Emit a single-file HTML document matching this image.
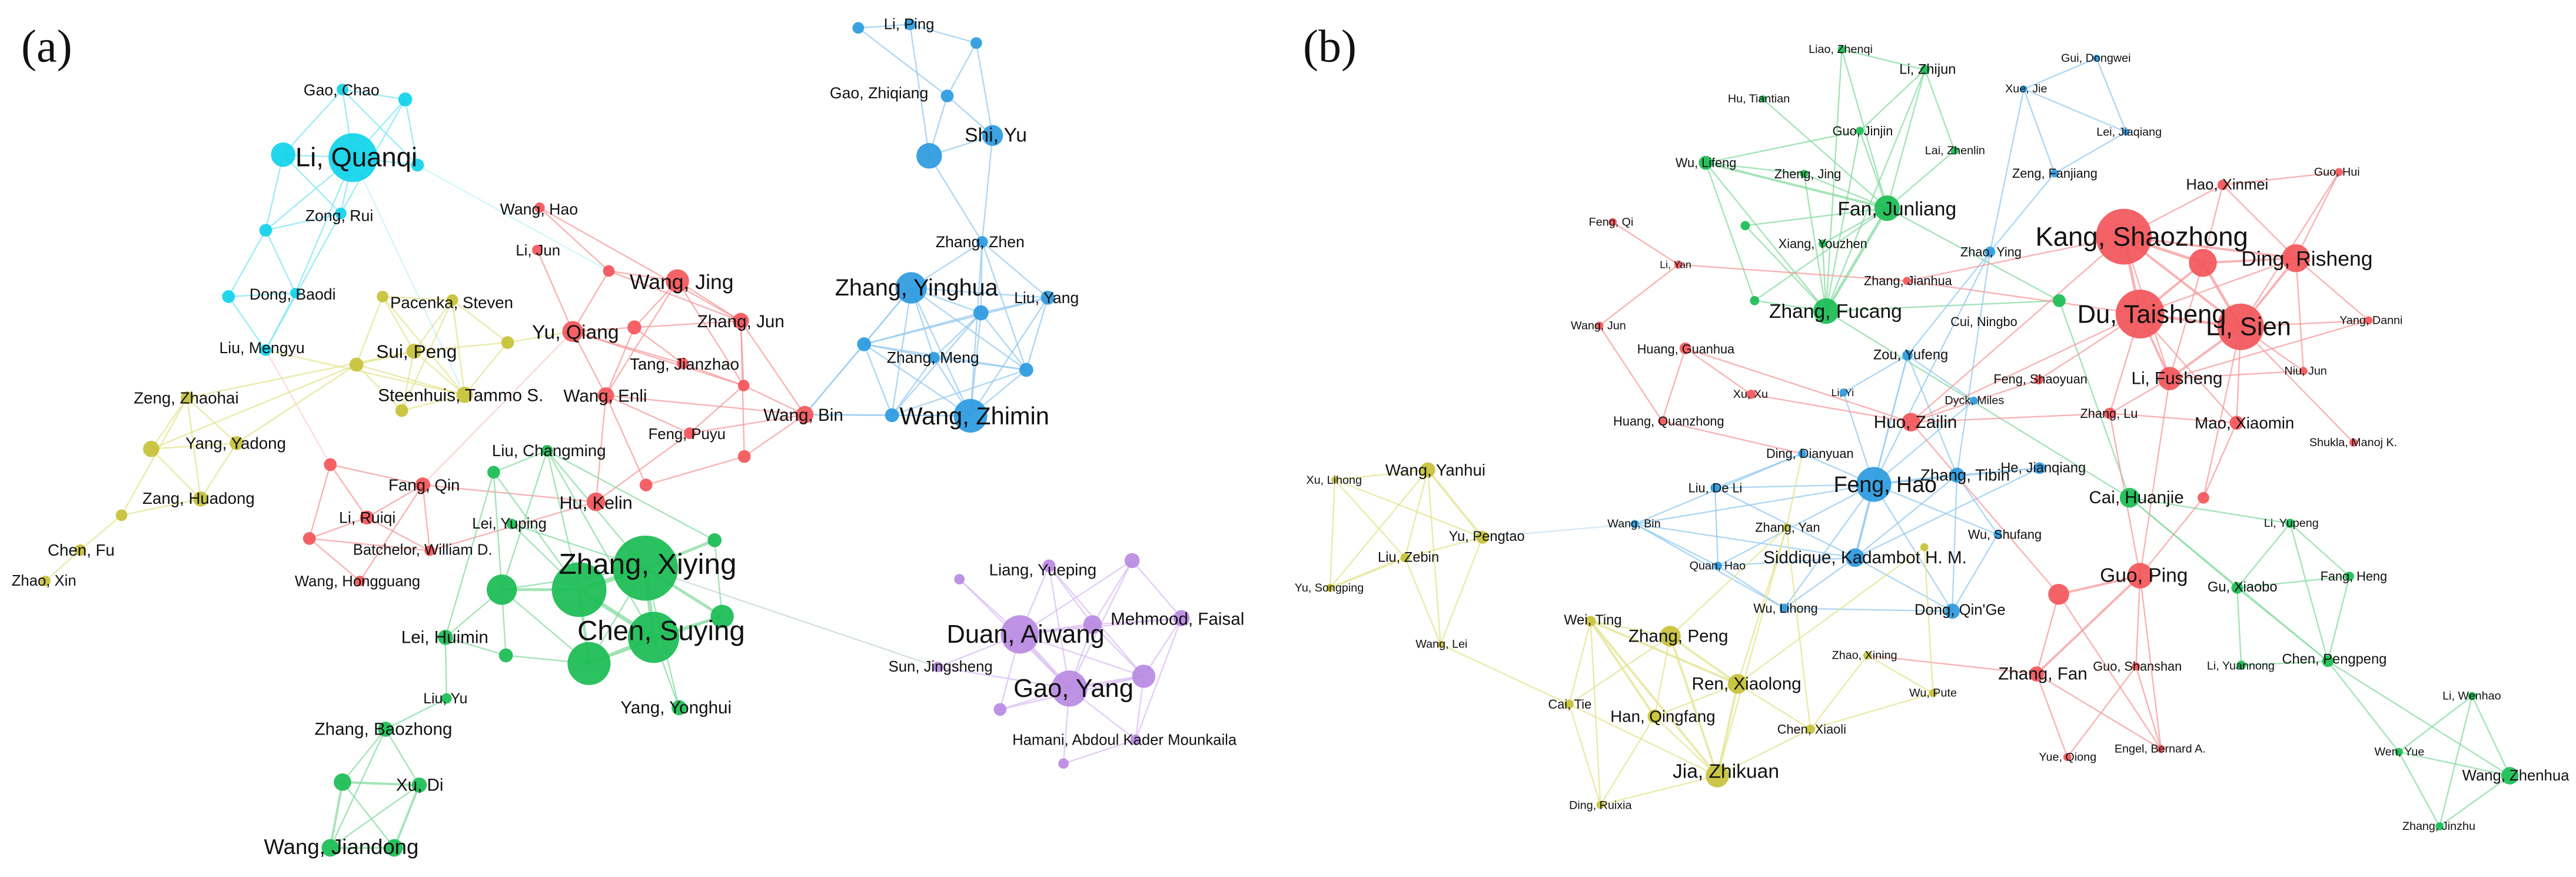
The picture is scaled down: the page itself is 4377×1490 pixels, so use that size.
<!DOCTYPE html>
<html><head><meta charset="utf-8"><style>
html,body{margin:0;padding:0;background:#fff}
svg{display:block}
text{font-family:"Liberation Sans",sans-serif;fill:#111;dominant-baseline:central}
.er line{stroke:#f59a9b}.eg line{stroke:#86dba0}.eb line{stroke:#94c9f0}.ec line{stroke:#7fe6f3}.ey line{stroke:#e3e38e}.ep line{stroke:#d9bcf3}
g.e line{stroke-width:2.4;stroke-opacity:.75}
.r{fill:#f3575b}.g{fill:#1cbd55}.b{fill:#2d9be0}.c{fill:#12d3ea}.y{fill:#c7c23a}.p{fill:#b98be2}
</style></head><body>
<svg width="4377" height="1490" viewBox="0 0 4377 1490" xmlns="http://www.w3.org/2000/svg">
<rect width="4377" height="1490" fill="#fff"/>
<text x="36" y="78" style="font-family:'Liberation Serif',serif;font-size:78px">(a)</text>
<text x="2214" y="78" style="font-family:'Liberation Serif',serif;font-size:78px">(b)</text>

<g transform="scale(0.988)">
<!-- PANEL A EDGES -->
<g class="e ec">
<line x1="607" y1="271" x2="487" y2="266"/><line x1="607" y1="271" x2="589" y2="154"/><line x1="607" y1="271" x2="697" y2="171"/><line x1="607" y1="271" x2="718" y2="284"/><line x1="607" y1="271" x2="586" y2="367"/><line x1="607" y1="271" x2="457" y2="396"/><line x1="487" y1="266" x2="589" y2="154"/><line x1="589" y1="154" x2="697" y2="171"/><line x1="697" y1="171" x2="718" y2="284"/><line x1="487" y1="266" x2="457" y2="396"/><line x1="457" y1="396" x2="586" y2="367"/><line x1="457" y1="396" x2="508" y2="504"/><line x1="457" y1="396" x2="393" y2="510"/><line x1="393" y1="510" x2="457" y2="602"/><line x1="508" y1="504" x2="457" y2="602"/><line x1="586" y1="367" x2="457" y2="602"/><line x1="508" y1="504" x2="393" y2="510"/><line x1="589" y1="154" x2="718" y2="284"/><line x1="487" y1="266" x2="586" y2="367"/><line x1="697" y1="171" x2="586" y2="367"/><line x1="607" y1="271" x2="508" y2="504"/><line x1="718" y1="284" x2="1047" y2="466" style="stroke-opacity:.35"/><line x1="607" y1="271" x2="799" y2="679" style="stroke-opacity:.35"/>
</g>
<g class="e eb">
<line x1="1476" y1="48" x2="1565" y2="42"/><line x1="1565" y1="42" x2="1679" y2="74"/><line x1="1476" y1="48" x2="1629" y2="165"/><line x1="1679" y1="74" x2="1629" y2="165"/><line x1="1629" y1="165" x2="1707" y2="233"/><line x1="1629" y1="165" x2="1598" y2="268"/><line x1="1598" y1="268" x2="1707" y2="233"/><line x1="1679" y1="74" x2="1707" y2="233"/><line x1="1707" y1="233" x2="1689" y2="416"/><line x1="1598" y1="268" x2="1689" y2="416"/><line x1="1565" y1="42" x2="1598" y2="268"/>
<line x1="1689" y1="416" x2="1567" y2="495"/><line x1="1689" y1="416" x2="1802" y2="512"/><line x1="1689" y1="416" x2="1687" y2="538"/><line x1="1689" y1="416" x2="1669" y2="715"/><line x1="1689" y1="416" x2="1765" y2="636"/><line x1="1567" y1="495" x2="1687" y2="538"/><line x1="1567" y1="495" x2="1486" y2="592"/><line x1="1567" y1="495" x2="1606" y2="615"/><line x1="1567" y1="495" x2="1669" y2="715"/><line x1="1567" y1="495" x2="1534" y2="714"/><line x1="1567" y1="495" x2="1765" y2="636"/><line x1="1567" y1="495" x2="1802" y2="512"/><line x1="1802" y1="512" x2="1687" y2="538"/><line x1="1802" y1="512" x2="1765" y2="636"/><line x1="1802" y1="512" x2="1669" y2="715"/><line x1="1802" y1="512" x2="1486" y2="592"/><line x1="1687" y1="538" x2="1486" y2="592"/><line x1="1687" y1="538" x2="1606" y2="615"/><line x1="1687" y1="538" x2="1765" y2="636"/><line x1="1687" y1="538" x2="1669" y2="715"/><line x1="1687" y1="538" x2="1534" y2="714"/><line x1="1486" y1="592" x2="1606" y2="615"/><line x1="1486" y1="592" x2="1765" y2="636"/><line x1="1486" y1="592" x2="1669" y2="715"/><line x1="1486" y1="592" x2="1534" y2="714"/><line x1="1606" y1="615" x2="1765" y2="636"/><line x1="1606" y1="615" x2="1669" y2="715"/><line x1="1606" y1="615" x2="1534" y2="714"/><line x1="1765" y1="636" x2="1669" y2="715"/><line x1="1534" y1="714" x2="1669" y2="715"/><line x1="1765" y1="636" x2="1534" y2="714"/><line x1="1384" y1="713" x2="1486" y2="592"/><line x1="1384" y1="713" x2="1534" y2="714"/><line x1="1384" y1="713" x2="1567" y2="495"/><line x1="1384" y1="713" x2="1669" y2="715"/>
</g>
<g class="e er">
<line x1="1384" y1="713" x2="1274" y2="552"/><line x1="1384" y1="713" x2="1279" y2="663"/><line x1="1384" y1="713" x2="1280" y2="785"/><line x1="1384" y1="713" x2="1186" y2="745"/><line x1="1384" y1="713" x2="1042" y2="680"/><line x1="928" y1="357" x2="1047" y2="466"/><line x1="928" y1="357" x2="1274" y2="552"/><line x1="924" y1="430" x2="985" y2="570"/><line x1="1047" y1="466" x2="1165" y2="483"/><line x1="1047" y1="466" x2="985" y2="570"/><line x1="1165" y1="483" x2="1091" y2="563"/><line x1="1165" y1="483" x2="1274" y2="552"/><line x1="985" y1="570" x2="1091" y2="563"/><line x1="985" y1="570" x2="1042" y2="680"/><line x1="985" y1="570" x2="1174" y2="625"/><line x1="1091" y1="563" x2="1274" y2="552"/><line x1="1091" y1="563" x2="1174" y2="625"/><line x1="1174" y1="625" x2="1279" y2="663"/><line x1="1042" y1="680" x2="1165" y2="483"/><line x1="1042" y1="680" x2="1025" y2="863"/><line x1="1042" y1="680" x2="1111" y2="834"/><line x1="1186" y1="745" x2="1279" y2="663"/><line x1="1280" y1="785" x2="1111" y2="834"/><line x1="1025" y1="863" x2="1186" y2="745"/><line x1="1274" y1="552" x2="1279" y2="663"/><line x1="1274" y1="552" x2="1280" y2="785"/><line x1="1165" y1="483" x2="1279" y2="663"/><line x1="1047" y1="466" x2="1274" y2="552"/><line x1="985" y1="570" x2="1279" y2="663"/><line x1="1091" y1="563" x2="1042" y2="680"/><line x1="1042" y1="680" x2="1186" y2="745"/>
<line x1="568" y1="799" x2="727" y2="834"/><line x1="568" y1="799" x2="631" y2="890"/><line x1="568" y1="799" x2="532" y2="926"/><line x1="727" y1="834" x2="631" y2="890"/><line x1="727" y1="834" x2="739" y2="947"/><line x1="727" y1="834" x2="1025" y2="863"/><line x1="631" y1="890" x2="532" y2="926"/><line x1="532" y1="926" x2="619" y2="999"/><line x1="631" y1="890" x2="739" y2="947"/><line x1="532" y1="926" x2="739" y2="947"/><line x1="727" y1="834" x2="619" y2="999"/><line x1="568" y1="799" x2="457" y2="602" style="stroke-opacity:.35"/><line x1="739" y1="947" x2="1025" y2="863"/><line x1="727" y1="834" x2="985" y2="570" style="stroke-opacity:.4"/>
</g>
<g class="e ey">
<line x1="658" y1="510" x2="778" y2="516"/><line x1="658" y1="510" x2="712" y2="604"/><line x1="658" y1="510" x2="613" y2="627"/><line x1="658" y1="510" x2="799" y2="679"/><line x1="778" y1="516" x2="873" y2="589"/><line x1="778" y1="516" x2="712" y2="604"/><line x1="778" y1="516" x2="799" y2="679"/><line x1="778" y1="516" x2="691" y2="706"/><line x1="873" y1="589" x2="799" y2="679"/><line x1="873" y1="589" x2="712" y2="604"/><line x1="712" y1="604" x2="613" y2="627"/><line x1="712" y1="604" x2="799" y2="679"/><line x1="712" y1="604" x2="691" y2="706"/><line x1="613" y1="627" x2="799" y2="679"/><line x1="613" y1="627" x2="691" y2="706"/><line x1="691" y1="706" x2="799" y2="679"/><line x1="322" y1="684" x2="260" y2="772"/><line x1="322" y1="684" x2="407" y2="762"/><line x1="260" y1="772" x2="407" y2="762"/><line x1="260" y1="772" x2="345" y2="858"/><line x1="407" y1="762" x2="345" y2="858"/><line x1="322" y1="684" x2="345" y2="858"/><line x1="209" y1="886" x2="345" y2="858"/><line x1="209" y1="886" x2="138" y2="946"/><line x1="138" y1="946" x2="78" y2="999"/><line x1="209" y1="886" x2="322" y2="684"/><line x1="613" y1="627" x2="260" y2="772"/><line x1="613" y1="627" x2="407" y2="762"/><line x1="712" y1="604" x2="322" y2="684"/><line x1="873" y1="589" x2="985" y2="570"/><line x1="799" y1="679" x2="457" y2="602"/>
</g>
<g class="e eg">
<line x1="1110" y1="977" x2="996" y2="1014" style="stroke-width:8"/><line x1="1110" y1="977" x2="1124" y2="1096" style="stroke-width:7"/><line x1="996" y1="1014" x2="1124" y2="1096" style="stroke-width:7"/><line x1="1110" y1="977" x2="1242" y2="1060" style="stroke-width:5"/><line x1="1110" y1="977" x2="1013" y2="1141"/><line x1="1110" y1="977" x2="863" y2="1014"/><line x1="1110" y1="977" x2="1229" y2="929" style="stroke-width:5"/><line x1="996" y1="1014" x2="863" y2="1014" style="stroke-width:5"/><line x1="996" y1="1014" x2="1013" y2="1141" style="stroke-width:5"/><line x1="1124" y1="1096" x2="1013" y2="1141" style="stroke-width:6"/><line x1="1124" y1="1096" x2="1242" y2="1060" style="stroke-width:5"/><line x1="1124" y1="1096" x2="1168" y2="1217"/><line x1="1110" y1="977" x2="1168" y2="1217"/><line x1="1242" y1="1060" x2="1229" y2="929"/><line x1="941" y1="775" x2="849" y2="812"/><line x1="941" y1="775" x2="1110" y2="977"/><line x1="941" y1="775" x2="996" y2="1014"/><line x1="941" y1="775" x2="863" y2="1014"/><line x1="941" y1="775" x2="1229" y2="929"/><line x1="849" y1="812" x2="863" y2="1014"/><line x1="849" y1="812" x2="996" y2="1014"/><line x1="880" y1="901" x2="996" y2="1014"/><line x1="880" y1="901" x2="1110" y2="977"/><line x1="863" y1="1014" x2="870" y2="1127"/><line x1="863" y1="1014" x2="1013" y2="1141"/><line x1="870" y1="1127" x2="766" y2="1096"/><line x1="870" y1="1127" x2="1013" y2="1141"/><line x1="766" y1="1096" x2="863" y2="1014"/><line x1="1013" y1="1141" x2="1242" y2="1060"/><line x1="766" y1="1096" x2="768" y2="1201"/><line x1="768" y1="1201" x2="663" y2="1254"/><line x1="663" y1="1254" x2="589" y2="1345"/><line x1="663" y1="1254" x2="721" y2="1350"/><line x1="589" y1="1345" x2="721" y2="1350" style="stroke-width:4"/><line x1="589" y1="1345" x2="568" y2="1458" style="stroke-width:4"/><line x1="589" y1="1345" x2="678" y2="1458"/><line x1="721" y1="1350" x2="568" y2="1458"/><line x1="721" y1="1350" x2="678" y2="1458" style="stroke-width:4"/><line x1="568" y1="1458" x2="678" y2="1458" style="stroke-width:4"/><line x1="663" y1="1254" x2="568" y2="1458"/><line x1="849" y1="812" x2="766" y2="1096"/><line x1="941" y1="775" x2="1124" y2="1096"/><line x1="1110" y1="977" x2="1613" y2="1147" style="stroke:#b5cfc8;stroke-opacity:.6"/>
</g>
<g class="e ep">
<line x1="1804" y1="973" x2="1754" y2="1091"/><line x1="1804" y1="973" x2="1879" y2="1074"/><line x1="1804" y1="973" x2="1839" y2="1184"/><line x1="1804" y1="973" x2="1967" y2="1163"/><line x1="1650" y1="996" x2="1754" y2="1091"/><line x1="1947" y1="964" x2="1754" y2="1091"/><line x1="1947" y1="964" x2="1879" y2="1074"/><line x1="1947" y1="964" x2="1839" y2="1184"/><line x1="1947" y1="964" x2="2032" y2="1063"/><line x1="1754" y1="1091" x2="1879" y2="1074" style="stroke-width:5"/><line x1="1754" y1="1091" x2="1839" y2="1184" style="stroke-width:6"/><line x1="1754" y1="1091" x2="2032" y2="1063"/><line x1="1754" y1="1091" x2="1967" y2="1163"/><line x1="1754" y1="1091" x2="1720" y2="1220"/><line x1="1754" y1="1091" x2="1613" y2="1147"/><line x1="1879" y1="1074" x2="1839" y2="1184"/><line x1="1879" y1="1074" x2="2032" y2="1063"/><line x1="1879" y1="1074" x2="1967" y2="1163"/><line x1="2032" y1="1063" x2="1967" y2="1163"/><line x1="2032" y1="1063" x2="1953" y2="1272"/><line x1="1967" y1="1163" x2="1839" y2="1184" style="stroke-width:5"/><line x1="1839" y1="1184" x2="1720" y2="1220"/><line x1="1839" y1="1184" x2="1953" y2="1272"/><line x1="1839" y1="1184" x2="1829" y2="1313"/><line x1="1839" y1="1184" x2="1613" y2="1147"/><line x1="1720" y1="1220" x2="1967" y2="1163"/><line x1="1953" y1="1272" x2="1829" y2="1313"/><line x1="1967" y1="1163" x2="1953" y2="1272"/><line x1="1650" y1="996" x2="1839" y2="1184"/>
</g>

<!-- PANEL A NODES -->
<g opacity=".93">
<circle class="c" cx="607" cy="271" r="42"/><circle class="c" cx="487" cy="266" r="21"/><circle class="c" cx="589" cy="154" r="10"/><circle class="c" cx="697" cy="171" r="12"/><circle class="c" cx="718" cy="284" r="11"/><circle class="c" cx="586" cy="367" r="10"/><circle class="c" cx="457" cy="396" r="11"/><circle class="c" cx="508" cy="504" r="9"/><circle class="c" cx="393" cy="510" r="11"/><circle class="c" cx="457" cy="602" r="10"/>
<circle class="b" cx="1565" cy="42" r="10"/><circle class="b" cx="1476" cy="48" r="10"/><circle class="b" cx="1679" cy="74" r="10"/><circle class="b" cx="1629" cy="165" r="11"/><circle class="b" cx="1707" cy="233" r="18"/><circle class="b" cx="1598" cy="268" r="22"/>
<circle class="b" cx="1689" cy="416" r="10"/><circle class="b" cx="1567" cy="495" r="27"/><circle class="b" cx="1802" cy="512" r="12"/><circle class="b" cx="1687" cy="538" r="13"/><circle class="b" cx="1486" cy="592" r="12"/><circle class="b" cx="1606" cy="615" r="10"/><circle class="b" cx="1765" cy="636" r="12"/><circle class="b" cx="1669" cy="715" r="29"/><circle class="b" cx="1534" cy="714" r="12"/>
<circle class="r" cx="928" cy="357" r="9"/><circle class="r" cx="924" cy="430" r="9"/><circle class="r" cx="1047" cy="466" r="10"/><circle class="r" cx="1165" cy="483" r="20"/><circle class="r" cx="1091" cy="563" r="12"/><circle class="r" cx="985" cy="570" r="18"/><circle class="r" cx="1274" cy="552" r="14"/><circle class="r" cx="1174" cy="625" r="10"/><circle class="r" cx="1279" cy="663" r="10"/><circle class="r" cx="1042" cy="680" r="14"/><circle class="r" cx="1384" cy="713" r="15"/><circle class="r" cx="1186" cy="745" r="10"/><circle class="r" cx="1280" cy="785" r="11"/><circle class="r" cx="1111" cy="834" r="11"/><circle class="r" cx="1025" cy="863" r="16"/><circle class="r" cx="568" cy="799" r="11"/><circle class="r" cx="727" cy="834" r="13"/><circle class="r" cx="631" cy="890" r="12"/><circle class="r" cx="532" cy="926" r="11"/><circle class="r" cx="739" cy="947" r="9"/><circle class="r" cx="619" cy="999" r="9"/>
<circle class="y" cx="658" cy="510" r="10"/><circle class="y" cx="778" cy="516" r="10"/><circle class="y" cx="873" cy="589" r="11"/><circle class="y" cx="712" cy="604" r="13"/><circle class="y" cx="613" cy="627" r="12"/><circle class="y" cx="799" cy="679" r="14"/><circle class="y" cx="691" cy="706" r="11"/><circle class="y" cx="322" cy="684" r="11"/><circle class="y" cx="260" cy="772" r="14"/><circle class="y" cx="407" cy="762" r="12"/><circle class="y" cx="345" cy="858" r="13"/><circle class="y" cx="209" cy="886" r="10"/><circle class="y" cx="138" cy="946" r="10"/><circle class="y" cx="78" cy="999" r="9"/>
<circle class="g" cx="941" cy="775" r="10"/><circle class="g" cx="849" cy="812" r="11"/><circle class="g" cx="880" cy="901" r="9"/><circle class="g" cx="1229" cy="929" r="12"/><circle class="g" cx="996" cy="1014" r="47"/><circle class="g" cx="1110" cy="977" r="56"/><circle class="g" cx="863" cy="1014" r="26"/><circle class="g" cx="1124" cy="1096" r="44"/><circle class="g" cx="1242" cy="1060" r="20"/><circle class="g" cx="1013" cy="1141" r="37"/><circle class="g" cx="870" cy="1127" r="12"/><circle class="g" cx="766" cy="1096" r="13"/><circle class="g" cx="1168" cy="1217" r="13"/><circle class="g" cx="768" cy="1201" r="9"/><circle class="g" cx="663" cy="1254" r="13"/><circle class="g" cx="589" cy="1345" r="15"/><circle class="g" cx="721" cy="1350" r="13"/><circle class="g" cx="568" cy="1458" r="15"/><circle class="g" cx="678" cy="1458" r="15"/>
<circle class="p" cx="1804" cy="973" r="11"/><circle class="p" cx="1650" cy="996" r="9"/><circle class="p" cx="1947" cy="964" r="13"/><circle class="p" cx="1754" cy="1091" r="33"/><circle class="p" cx="1879" cy="1074" r="16"/><circle class="p" cx="2032" cy="1063" r="14"/><circle class="p" cx="1613" cy="1147" r="9"/><circle class="p" cx="1967" cy="1163" r="20"/><circle class="p" cx="1839" cy="1184" r="31"/><circle class="p" cx="1720" cy="1220" r="11"/><circle class="p" cx="1953" cy="1272" r="9"/><circle class="p" cx="1829" cy="1313" r="9"/>
</g>

<!-- PANEL A LABELS -->
<g>
<text x="508" y="270" font-size="46">Li, Quanqi</text>
<text x="522" y="155" font-size="27">Gao, Chao</text>
<text x="525" y="371" font-size="27">Zong, Rui</text>
<text x="429" y="506" font-size="27">Dong, Baodi</text>
<text x="377" y="598" font-size="27">Liu, Mengyu</text>
<text x="1520" y="42" font-size="26">Li, Ping</text>
<text x="1427" y="160" font-size="27">Gao, Zhiqiang</text>
<text x="1659" y="233" font-size="34">Shi, Yu</text>
<text x="1609" y="416" font-size="27">Zhang, Zhen</text>
<text x="1436" y="495" font-size="40">Zhang, Yinghua</text>
<text x="1744" y="512" font-size="27">Liu, Yang</text>
<text x="1525" y="615" font-size="27">Zhang, Meng</text>
<text x="1547" y="715" font-size="42">Wang, Zhimin</text>
<text x="860" y="360" font-size="27">Wang, Hao</text>
<text x="887" y="431" font-size="26">Li, Jun</text>
<text x="1083" y="485" font-size="36">Wang, Jing</text>
<text x="915" y="572" font-size="34">Yu, Qiang</text>
<text x="1199" y="553" font-size="30">Zhang, Jun</text>
<text x="1083" y="626" font-size="28">Tang, Jianzhao</text>
<text x="969" y="681" font-size="30">Wang, Enli</text>
<text x="1313" y="714" font-size="30">Wang, Bin</text>
<text x="1115" y="747" font-size="26">Feng, Puyu</text>
<text x="668" y="834" font-size="28">Fang, Qin</text>
<text x="962" y="865" font-size="31">Hu, Kelin</text>
<text x="583" y="890" font-size="27">Li, Ruiqi</text>
<text x="607" y="946" font-size="26">Batchelor, William D.</text>
<text x="507" y="1000" font-size="26">Wang, Hongguang</text>
<text x="671" y="520" font-size="28">Pacenka, Steven</text>
<text x="647" y="604" font-size="32">Sui, Peng</text>
<text x="650" y="680" font-size="30">Steenhuis, Tammo S.</text>
<text x="230" y="684" font-size="28">Zeng, Zhaohai</text>
<text x="319" y="762" font-size="28">Yang, Yadong</text>
<text x="245" y="857" font-size="28">Zang, Huadong</text>
<text x="82" y="946" font-size="28">Chen, Fu</text>
<text x="20" y="999" font-size="26">Zhao, Xin</text>
<text x="846" y="775" font-size="28">Liu, Changming</text>
<text x="812" y="901" font-size="26">Lei, Yuping</text>
<text x="961" y="970" font-size="50">Zhang, Xiying</text>
<text x="993" y="1085" font-size="48">Chen, Suying</text>
<text x="690" y="1096" font-size="30">Lei, Huimin</text>
<text x="1067" y="1217" font-size="30">Yang, Yonghui</text>
<text x="728" y="1202" font-size="25">Liu, Yu</text>
<text x="541" y="1254" font-size="30">Zhang, Baozhong</text>
<text x="681" y="1350" font-size="30">Xu, Di</text>
<text x="454" y="1456" font-size="37">Wang, Jiandong</text>
<text x="1701" y="980" font-size="28">Liang, Yueping</text>
<text x="1628" y="1091" font-size="44">Duan, Aiwang</text>
<text x="1910" y="1065" font-size="30">Mehmood, Faisal</text>
<text x="1528" y="1147" font-size="26">Sun, Jingsheng</text>
<text x="1743" y="1184" font-size="44">Gao, Yang</text>
<text x="1741" y="1273" font-size="26">Hamani, Abdoul Kader Mounkaila</text>
</g>
</g>

<g transform="translate(2180,0) scale(0.988) translate(-2180,0)">
<!-- PANEL B EDGES -->
<g class="e eg">
<line x1="3141" y1="85" x2="3284" y2="120"/><line x1="3141" y1="85" x2="3219" y2="358"/><line x1="3141" y1="85" x2="3114" y2="535"/><line x1="3284" y1="120" x2="3219" y2="358"/><line x1="3284" y1="120" x2="3172" y2="225"/><line x1="3284" y1="120" x2="3335" y2="259"/><line x1="3284" y1="120" x2="3114" y2="535"/><line x1="3005" y1="170" x2="3219" y2="358"/><line x1="3172" y1="225" x2="3219" y2="358"/><line x1="3172" y1="225" x2="3114" y2="535"/><line x1="3172" y1="225" x2="2907" y2="280"/><line x1="3335" y1="259" x2="3219" y2="358"/><line x1="2907" y1="280" x2="3219" y2="358" style="stroke-width:4"/><line x1="2907" y1="280" x2="3114" y2="535"/><line x1="2907" y1="280" x2="2991" y2="517"/><line x1="2907" y1="280" x2="3076" y2="299"/><line x1="3076" y1="299" x2="3219" y2="358"/><line x1="3076" y1="299" x2="3114" y2="535"/><line x1="3219" y1="358" x2="2975" y2="388"/><line x1="3219" y1="358" x2="3108" y2="419"/><line x1="3219" y1="358" x2="3114" y2="535" style="stroke-width:5"/><line x1="3219" y1="358" x2="2991" y2="517"/><line x1="2975" y1="388" x2="3114" y2="535"/><line x1="3108" y1="419" x2="3114" y2="535"/><line x1="2991" y1="517" x2="3114" y2="535"/><line x1="3114" y1="535" x2="3515" y2="517"/><line x1="3219" y1="358" x2="3515" y2="517"/><line x1="3515" y1="517" x2="3636" y2="856"/><line x1="3114" y1="535" x2="3636" y2="856"/><line x1="3636" y1="856" x2="3912" y2="900"/><line x1="3636" y1="856" x2="3821" y2="1011"/><line x1="3636" y1="856" x2="3977" y2="1137"/><line x1="3912" y1="900" x2="4014" y2="991"/><line x1="3912" y1="900" x2="3821" y2="1011"/><line x1="3912" y1="900" x2="3977" y2="1137"/><line x1="3821" y1="1011" x2="3977" y2="1137"/><line x1="3821" y1="1011" x2="3828" y2="1144"/><line x1="4014" y1="991" x2="3977" y2="1137"/><line x1="3828" y1="1144" x2="3977" y2="1137"/><line x1="3977" y1="1137" x2="4099" y2="1293"/><line x1="4225" y1="1197" x2="4099" y2="1293"/><line x1="4225" y1="1197" x2="4290" y2="1334"/><line x1="4099" y1="1293" x2="4290" y2="1334"/><line x1="4099" y1="1293" x2="4169" y2="1421"/><line x1="4225" y1="1197" x2="4169" y2="1421"/><line x1="4290" y1="1334" x2="4169" y2="1421"/><line x1="3977" y1="1137" x2="4290" y2="1334"/><line x1="3821" y1="1011" x2="4014" y2="991"/>
</g>
<g class="e eb">
<line x1="3579" y1="100" x2="3454" y2="153"/><line x1="3579" y1="100" x2="3630" y2="227"/><line x1="3454" y1="153" x2="3630" y2="227"/><line x1="3454" y1="153" x2="3507" y2="298"/><line x1="3630" y1="227" x2="3507" y2="298"/><line x1="3507" y1="298" x2="3396" y2="433"/><line x1="3454" y1="153" x2="3396" y2="433"/>
<line x1="3396" y1="433" x2="3254" y2="611"/><line x1="3396" y1="433" x2="3196" y2="833"/><line x1="3396" y1="433" x2="3339" y2="817"/><line x1="3254" y1="611" x2="3196" y2="833"/><line x1="3254" y1="611" x2="3144" y2="675"/><line x1="3254" y1="611" x2="3368" y2="689"/><line x1="3254" y1="611" x2="3339" y2="817"/><line x1="3254" y1="611" x2="3164" y2="959"/><line x1="3144" y1="675" x2="3196" y2="833"/><line x1="3368" y1="689" x2="3196" y2="833"/><line x1="3073" y1="780" x2="3196" y2="833"/><line x1="3073" y1="780" x2="2923" y2="839"/><line x1="3073" y1="780" x2="2785" y2="901"/><line x1="3196" y1="833" x2="3339" y2="817" style="stroke-width:4"/><line x1="3196" y1="833" x2="3481" y2="805"/><line x1="3196" y1="833" x2="2923" y2="839"/><line x1="3196" y1="833" x2="2785" y2="901"/><line x1="3196" y1="833" x2="3409" y2="919"/><line x1="3196" y1="833" x2="2928" y2="973"/><line x1="3196" y1="833" x2="3164" y2="959" style="stroke-width:4"/><line x1="3196" y1="833" x2="3042" y2="1046"/><line x1="3196" y1="833" x2="3331" y2="1051"/><line x1="3339" y1="817" x2="3481" y2="805"/><line x1="3339" y1="817" x2="3164" y2="959"/><line x1="3339" y1="817" x2="3409" y2="919"/><line x1="3339" y1="817" x2="3331" y2="1051"/><line x1="2923" y1="839" x2="2928" y2="973"/><line x1="2923" y1="839" x2="3164" y2="959"/><line x1="2785" y1="901" x2="3164" y2="959"/><line x1="2785" y1="901" x2="2928" y2="973"/><line x1="2928" y1="973" x2="3042" y2="1046"/><line x1="3164" y1="959" x2="3042" y2="1046"/><line x1="3164" y1="959" x2="3331" y2="1051"/><line x1="3164" y1="959" x2="2928" y2="973"/><line x1="3042" y1="1046" x2="3331" y2="1051"/><line x1="3409" y1="919" x2="3331" y2="1051"/><line x1="2785" y1="901" x2="3042" y2="1046"/><line x1="3481" y1="805" x2="3164" y2="959"/><line x1="2785" y1="901" x2="2523" y2="924" style="stroke-opacity:.4"/>
</g>
<g class="e er">
<line x1="3626" y1="407" x2="3762" y2="452" style="stroke-width:5"/><line x1="3626" y1="407" x2="3922" y2="444" style="stroke-width:4"/><line x1="3626" y1="407" x2="3654" y2="540" style="stroke-width:5"/><line x1="3626" y1="407" x2="3827" y2="562" style="stroke-width:4"/><line x1="3626" y1="407" x2="3796" y2="318"/><line x1="3626" y1="407" x2="3705" y2="651"/><line x1="3626" y1="407" x2="3260" y2="726"/><line x1="3626" y1="407" x2="3253" y2="483"/><line x1="3762" y1="452" x2="3922" y2="444" style="stroke-width:4"/><line x1="3762" y1="452" x2="3654" y2="540" style="stroke-width:4"/><line x1="3762" y1="452" x2="3827" y2="562" style="stroke-width:5"/><line x1="3762" y1="452" x2="3796" y2="318"/><line x1="3762" y1="452" x2="3705" y2="651"/><line x1="3922" y1="444" x2="3827" y2="562" style="stroke-width:4"/><line x1="3922" y1="444" x2="3654" y2="540"/><line x1="3922" y1="444" x2="3996" y2="296"/><line x1="3922" y1="444" x2="4047" y2="551"/><line x1="3922" y1="444" x2="3935" y2="638"/><line x1="3796" y1="318" x2="3996" y2="296"/><line x1="3796" y1="318" x2="3922" y2="444"/><line x1="3996" y1="296" x2="3827" y2="562"/><line x1="3654" y1="540" x2="3827" y2="562" style="stroke-width:5"/><line x1="3654" y1="540" x2="3705" y2="651" style="stroke-width:4"/><line x1="3654" y1="540" x2="3602" y2="711"/><line x1="3654" y1="540" x2="3820" y2="727"/><line x1="3654" y1="540" x2="3480" y2="653"/><line x1="3654" y1="540" x2="3260" y2="726"/><line x1="3827" y1="562" x2="3705" y2="651" style="stroke-width:4"/><line x1="3827" y1="562" x2="3820" y2="727"/><line x1="3827" y1="562" x2="4047" y2="551"/><line x1="3827" y1="562" x2="3935" y2="638"/><line x1="3827" y1="562" x2="4021" y2="761"/><line x1="3705" y1="651" x2="3602" y2="711"/><line x1="3705" y1="651" x2="3654" y2="990"/><line x1="3602" y1="711" x2="3654" y2="990"/><line x1="3820" y1="727" x2="3763" y2="856"/><line x1="3763" y1="856" x2="3654" y2="990"/><line x1="3654" y1="990" x2="3514" y2="1022" style="stroke-width:4"/><line x1="3654" y1="990" x2="3476" y2="1159" style="stroke-width:4"/><line x1="3654" y1="990" x2="3647" y2="1146"/><line x1="3654" y1="990" x2="3690" y2="1288"/><line x1="3514" y1="1022" x2="3476" y2="1159"/><line x1="3514" y1="1022" x2="3690" y2="1288"/><line x1="3476" y1="1159" x2="3529" y2="1302"/><line x1="3476" y1="1159" x2="3690" y2="1288"/><line x1="3647" y1="1146" x2="3529" y2="1302"/><line x1="3647" y1="1146" x2="3690" y2="1288"/><line x1="3260" y1="726" x2="3514" y2="1022"/><line x1="3260" y1="726" x2="3480" y2="653"/><line x1="3260" y1="726" x2="2985" y2="678"/><line x1="3260" y1="726" x2="3602" y2="711"/><line x1="3253" y1="483" x2="3654" y2="540"/><line x1="2747" y1="382" x2="2860" y2="455"/><line x1="2860" y1="455" x2="2724" y2="560"/><line x1="2860" y1="455" x2="3253" y2="483"/><line x1="2724" y1="560" x2="2832" y2="724"/><line x1="2872" y1="599" x2="2985" y2="678"/><line x1="2872" y1="599" x2="2832" y2="724"/><line x1="2872" y1="599" x2="3260" y2="726"/><line x1="2832" y1="724" x2="3073" y2="780"/><line x1="3476" y1="1159" x2="3185" y2="1127"/><line x1="3820" y1="727" x2="3602" y2="711"/><line x1="3935" y1="638" x2="3705" y2="651"/><line x1="4047" y1="551" x2="3705" y2="651"/><line x1="3763" y1="856" x2="3827" y2="562"/>
</g>
<g class="e ey">
<line x1="2269" y1="825" x2="2429" y2="808"/><line x1="2269" y1="825" x2="2523" y2="924"/><line x1="2269" y1="825" x2="2390" y2="959"/><line x1="2269" y1="825" x2="2261" y2="1011"/><line x1="2429" y1="808" x2="2523" y2="924" style="stroke-width:4"/><line x1="2429" y1="808" x2="2390" y2="959"/><line x1="2429" y1="808" x2="2261" y2="1011"/><line x1="2429" y1="808" x2="2451" y2="1108"/><line x1="2523" y1="924" x2="2390" y2="959"/><line x1="2390" y1="959" x2="2261" y2="1011" style="stroke-width:4"/><line x1="2390" y1="959" x2="2451" y2="1108"/><line x1="2523" y1="924" x2="2451" y2="1108"/><line x1="2451" y1="1108" x2="2672" y2="1211"/>
<line x1="2709" y1="1068" x2="2846" y2="1094"/><line x1="2709" y1="1068" x2="2962" y2="1176" style="stroke-width:4"/><line x1="2709" y1="1068" x2="2819" y2="1232" style="stroke-width:4"/><line x1="2709" y1="1068" x2="2927" y2="1334" style="stroke-width:4"/><line x1="2709" y1="1068" x2="2672" y2="1211"/><line x1="2709" y1="1068" x2="2726" y2="1384"/><line x1="2846" y1="1094" x2="2962" y2="1176" style="stroke-width:4"/><line x1="2846" y1="1094" x2="2819" y2="1232"/><line x1="2846" y1="1094" x2="2927" y2="1334" style="stroke-width:4"/><line x1="2846" y1="1094" x2="2672" y2="1211"/><line x1="2846" y1="1094" x2="3046" y2="907"/><line x1="2962" y1="1176" x2="2819" y2="1232"/><line x1="2962" y1="1176" x2="2927" y2="1334" style="stroke-width:4"/><line x1="2962" y1="1176" x2="3087" y2="1254"/><line x1="2962" y1="1176" x2="3046" y2="907"/><line x1="2819" y1="1232" x2="2927" y2="1334"/><line x1="2819" y1="1232" x2="2726" y2="1384"/><line x1="2672" y1="1211" x2="2927" y2="1334"/><line x1="2672" y1="1211" x2="2726" y2="1384"/><line x1="2726" y1="1384" x2="2927" y2="1334"/><line x1="2927" y1="1334" x2="3087" y2="1254"/><line x1="3087" y1="1254" x2="3185" y2="1127"/><line x1="3087" y1="1254" x2="3298" y2="1192"/><line x1="3087" y1="1254" x2="3046" y2="907"/><line x1="3185" y1="1127" x2="3298" y2="1192"/><line x1="3283" y1="941" x2="3298" y2="1192"/><line x1="3283" y1="941" x2="2962" y2="1176"/><line x1="3046" y1="907" x2="2927" y2="1334"/><line x1="3046" y1="907" x2="3073" y2="780"/>
</g>

<!-- PANEL B NODES -->
<g opacity=".93">
<circle class="g" cx="3141" cy="85" r="7"/><circle class="g" cx="3284" cy="120" r="8"/><circle class="g" cx="3005" cy="170" r="6"/><circle class="g" cx="3172" cy="225" r="7"/><circle class="g" cx="3335" cy="259" r="7"/><circle class="g" cx="2907" cy="280" r="12"/><circle class="g" cx="3076" cy="299" r="7"/><circle class="g" cx="3219" cy="358" r="22"/><circle class="g" cx="2975" cy="388" r="8"/><circle class="g" cx="3108" cy="419" r="7"/><circle class="g" cx="2991" cy="517" r="8"/><circle class="g" cx="3114" cy="535" r="22"/><circle class="g" cx="3515" cy="517" r="11"/><circle class="g" cx="3636" cy="856" r="17"/><circle class="g" cx="3912" cy="900" r="8"/><circle class="g" cx="3821" cy="1011" r="10"/><circle class="g" cx="4014" cy="991" r="8"/><circle class="g" cx="3828" cy="1144" r="8"/><circle class="g" cx="3977" cy="1137" r="10"/><circle class="g" cx="4225" cy="1197" r="7"/><circle class="g" cx="4099" cy="1293" r="7"/><circle class="g" cx="4290" cy="1334" r="15"/><circle class="g" cx="4169" cy="1421" r="7"/>
<circle class="b" cx="3579" cy="100" r="6"/><circle class="b" cx="3454" cy="153" r="6"/><circle class="b" cx="3630" cy="227" r="6"/><circle class="b" cx="3507" cy="298" r="7"/><circle class="b" cx="3396" cy="433" r="9"/><circle class="b" cx="3254" cy="611" r="9"/><circle class="b" cx="3144" cy="675" r="7"/><circle class="b" cx="3368" cy="689" r="7"/><circle class="b" cx="3073" cy="780" r="7"/><circle class="b" cx="3196" cy="833" r="30"/><circle class="b" cx="3339" cy="817" r="13"/><circle class="b" cx="3481" cy="805" r="10"/><circle class="b" cx="2923" cy="839" r="8"/><circle class="b" cx="2785" cy="901" r="7"/><circle class="b" cx="3409" cy="919" r="7"/><circle class="b" cx="2928" cy="973" r="7"/><circle class="b" cx="3164" cy="959" r="16"/><circle class="b" cx="3042" cy="1046" r="8"/><circle class="b" cx="3331" cy="1051" r="13"/>
<circle class="r" cx="2747" cy="382" r="7"/><circle class="r" cx="2860" cy="455" r="7"/><circle class="r" cx="2724" cy="560" r="7"/><circle class="r" cx="2872" cy="599" r="10"/><circle class="r" cx="2985" cy="678" r="8"/><circle class="r" cx="2832" cy="724" r="7"/><circle class="r" cx="3253" cy="483" r="7"/><circle class="r" cx="3626" cy="407" r="48"/><circle class="r" cx="3762" cy="452" r="24"/><circle class="r" cx="3922" cy="444" r="24"/><circle class="r" cx="3796" cy="318" r="9"/><circle class="r" cx="3996" cy="296" r="7"/><circle class="r" cx="3654" cy="540" r="42"/><circle class="r" cx="3827" cy="562" r="40"/><circle class="r" cx="4047" cy="551" r="7"/><circle class="r" cx="3480" cy="653" r="8"/><circle class="r" cx="3705" cy="651" r="20"/><circle class="r" cx="3935" cy="638" r="7"/><circle class="r" cx="3260" cy="726" r="16"/><circle class="r" cx="3602" cy="711" r="10"/><circle class="r" cx="3820" cy="727" r="12"/><circle class="r" cx="4021" cy="761" r="7"/><circle class="r" cx="3763" cy="856" r="10"/><circle class="r" cx="3654" cy="990" r="22"/><circle class="r" cx="3514" cy="1022" r="18"/><circle class="r" cx="3476" cy="1159" r="13"/><circle class="r" cx="3647" cy="1146" r="7"/><circle class="r" cx="3529" cy="1302" r="7"/><circle class="r" cx="3690" cy="1288" r="7"/>
<circle class="y" cx="2269" cy="825" r="6"/><circle class="y" cx="2429" cy="808" r="13"/><circle class="y" cx="2523" cy="924" r="11"/><circle class="y" cx="2390" cy="959" r="8"/><circle class="y" cx="2261" cy="1011" r="7"/><circle class="y" cx="2451" cy="1108" r="6"/><circle class="y" cx="3046" cy="907" r="7"/><circle class="y" cx="3283" cy="941" r="7"/><circle class="y" cx="2709" cy="1068" r="9"/><circle class="y" cx="2846" cy="1094" r="18"/><circle class="y" cx="2962" cy="1176" r="17"/><circle class="y" cx="3185" cy="1127" r="7"/><circle class="y" cx="3298" cy="1192" r="7"/><circle class="y" cx="2672" cy="1211" r="8"/><circle class="y" cx="2819" cy="1232" r="12"/><circle class="y" cx="3087" cy="1254" r="8"/><circle class="y" cx="2927" cy="1334" r="20"/><circle class="y" cx="2726" cy="1384" r="7"/>
</g>

<!-- PANEL B LABELS -->
<g>
<text x="3084" y="85" font-size="20">Liao, Zhenqi</text>
<text x="3240" y="120" font-size="24">Li, Zhijun</text>
<text x="2945" y="170" font-size="20">Hu, Tiantian</text>
<text x="3125" y="225" font-size="22">Guo, Jinjin</text>
<text x="3284" y="259" font-size="20">Lai, Zhenlin</text>
<text x="2855" y="280" font-size="22">Wu, Lifeng</text>
<text x="3025" y="299" font-size="22">Zheng, Jing</text>
<text x="3134" y="360" font-size="34">Fan, Junliang</text>
<text x="3032" y="419" font-size="22">Xiang, Youzhen</text>
<text x="3016" y="536" font-size="34">Zhang, Fucang</text>
<text x="3566" y="856" font-size="30">Cai, Huanjie</text>
<text x="3867" y="900" font-size="20">Li, Yupeng</text>
<text x="3770" y="1010" font-size="24">Gu, Xiaobo</text>
<text x="3964" y="991" font-size="22">Fang, Heng</text>
<text x="3769" y="1145" font-size="20">Li, Yuannong</text>
<text x="3898" y="1134" font-size="24">Chen, Pengpeng</text>
<text x="4174" y="1197" font-size="20">Li, Wenhao</text>
<text x="4057" y="1293" font-size="20">Wen, Yue</text>
<text x="4208" y="1334" font-size="26">Wang, Zhenhua</text>
<text x="4105" y="1421" font-size="20">Zhang, Jinzhu</text>
<text x="3518" y="100" font-size="20">Gui, Dongwei</text>
<text x="3422" y="153" font-size="20">Xue, Jie</text>
<text x="3579" y="227" font-size="20">Lei, Jiaqiang</text>
<text x="3434" y="298" font-size="22">Zeng, Fanjiang</text>
<text x="3345" y="433" font-size="22">Zhao, Ying</text>
<text x="3195" y="611" font-size="24">Zou, Yufeng</text>
<text x="3123" y="675" font-size="18">Li, Yi</text>
<text x="3318" y="689" font-size="20">Dyck, Miles</text>
<text x="3011" y="780" font-size="22">Ding, Dianyuan</text>
<text x="3127" y="833" font-size="38">Feng, Hao</text>
<text x="3276" y="817" font-size="28">Zhang, Tibin</text>
<text x="3414" y="805" font-size="24">He, Jianqiang</text>
<text x="2877" y="839" font-size="22">Liu, De Li</text>
<text x="2738" y="901" font-size="20">Wang, Bin</text>
<text x="3358" y="919" font-size="22">Wu, Shufang</text>
<text x="2879" y="973" font-size="20">Quan, Hao</text>
<text x="3006" y="959" font-size="30">Siddique, Kadambot H. M.</text>
<text x="2989" y="1046" font-size="22">Wu, Lihong</text>
<text x="3266" y="1049" font-size="26">Dong, Qin'Ge</text>
<text x="2706" y="382" font-size="20">Feng, Qi</text>
<text x="2828" y="455" font-size="18">Li, Yan</text>
<text x="2675" y="560" font-size="20">Wang, Jun</text>
<text x="2789" y="600" font-size="22">Huang, Guanhua</text>
<text x="2954" y="678" font-size="20">Xu, Xu</text>
<text x="2748" y="724" font-size="22">Huang, Quanzhong</text>
<text x="3179" y="483" font-size="22">Zhang, Jianhua</text>
<text x="3474" y="407" font-size="46">Kang, Shaozhong</text>
<text x="3828" y="445" font-size="36">Ding, Risheng</text>
<text x="3733" y="318" font-size="26">Hao, Xinmei</text>
<text x="3953" y="296" font-size="20">Guo, Hui</text>
<text x="3546" y="541" font-size="44">Du, Taisheng</text>
<text x="3767" y="562" font-size="44">Li, Sien</text>
<text x="3328" y="553" font-size="22">Cui, Ningbo</text>
<text x="3997" y="551" font-size="20">Yang, Danni</text>
<text x="3402" y="652" font-size="22">Feng, Shaoyuan</text>
<text x="3639" y="651" font-size="30">Li, Fusheng</text>
<text x="3902" y="638" font-size="20">Niu, Jun</text>
<text x="3196" y="726" font-size="30">Huo, Zailin</text>
<text x="3551" y="711" font-size="22">Zhang, Lu</text>
<text x="3748" y="727" font-size="28">Mao, Xiaomin</text>
<text x="3945" y="761" font-size="20">Shukla, Manoj K.</text>
<text x="3585" y="990" font-size="34">Guo, Ping</text>
<text x="3410" y="1159" font-size="30">Zhang, Fan</text>
<text x="3573" y="1146" font-size="22">Guo, Shanshan</text>
<text x="3480" y="1302" font-size="20">Yue, Qiong</text>
<text x="3610" y="1288" font-size="20">Engel, Bernard A.</text>
<text x="2220" y="826" font-size="20">Xu, Lihong</text>
<text x="2356" y="808" font-size="28">Wang, Yanhui</text>
<text x="2465" y="923" font-size="24">Yu, Pengtao</text>
<text x="2343" y="959" font-size="24">Liu, Zebin</text>
<text x="2200" y="1011" font-size="20">Yu, Songping</text>
<text x="2408" y="1108" font-size="20">Wang, Lei</text>
<text x="2992" y="907" font-size="22">Zhang, Yan</text>
<text x="2663" y="1067" font-size="24">Wei, Ting</text>
<text x="2774" y="1094" font-size="30">Zhang, Peng</text>
<text x="2883" y="1176" font-size="30">Ren, Xiaolong</text>
<text x="3124" y="1127" font-size="20">Zhao, Xining</text>
<text x="3257" y="1192" font-size="20">Wu, Pute</text>
<text x="2636" y="1211" font-size="22">Cai, Tie</text>
<text x="2743" y="1232" font-size="28">Han, Qingfang</text>
<text x="3030" y="1254" font-size="22">Chen, Xiaoli</text>
<text x="2850" y="1327" font-size="34">Jia, Zhikuan</text>
<text x="2672" y="1385" font-size="20">Ding, Ruixia</text>
</g>
</g>
</svg>
</body></html>
